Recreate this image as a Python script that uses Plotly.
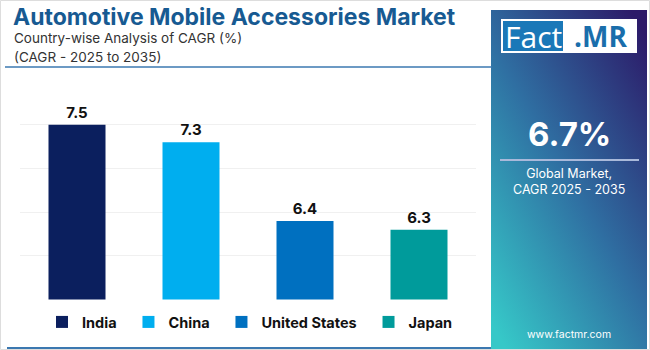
import base64
import plotly.graph_objects as go

countries = ["India", "China", "United States", "Japan"]
cagr = [7.5, 7.3, 6.4, 6.3]
value_labels = ["7.5", "7.3", "6.4", "6.3"]
bar_colors = ["#0b1f5e", "#00aeef", "#0070c0", "#009b9b"]
global_cagr = "6.7%"

W, H = 650, 350

def px(x):
    return x / W

def py(y):
    return 1 - y / H

fig = go.Figure()
for c, v, lab, col in zip(countries, cagr, value_labels, bar_colors):
    fig.add_trace(go.Bar(
        x=[c], y=[v], name=c + "\u00a0\u00a0", text=[lab], textposition="outside",
        textfont=dict(family="Inter", size=15, color="#111111", weight="bold"),
        marker=dict(color=col, line=dict(width=0)), width=0.5, cliponaxis=False,
    ))

svg = ('<svg xmlns="http://www.w3.org/2000/svg" width="156" height="340" viewBox="0 0 156 340" preserveAspectRatio="none">'
       '<defs><linearGradient id="g" x1="0.1" y1="1" x2="0.9" y2="0">'
       '<stop offset="0" stop-color="#36c8c8"/><stop offset="0.5" stop-color="#2f6fa2"/>'
       '<stop offset="1" stop-color="#2c1b69"/></linearGradient></defs>'
       '<rect width="156" height="340" fill="url(#g)"/></svg>')
src = "data:image/svg+xml;base64," + base64.b64encode(svg.encode()).decode()

shapes = [
    dict(type="rect", xref="paper", yref="paper", x0=px(0.5), x1=px(649.5), y0=py(349.5), y1=py(0.5),
         line=dict(color="#dddddd", width=1), fillcolor="rgba(0,0,0,0)", layer="below"),
    dict(type="line", xref="paper", yref="paper", x0=px(5), x1=px(492), y0=py(67), y1=py(67),
         line=dict(color="#3b78b0", width=1.5)),
    dict(type="line", xref="paper", yref="paper", x0=px(7), x1=px(491), y0=py(348), y1=py(348),
         line=dict(color="#3b78b0", width=2)),
    # logo
    dict(type="rect", xref="paper", yref="paper", x0=px(501), x1=px(637), y0=py(53), y1=py(19),
         line=dict(width=0), fillcolor="#ffffff"),
    dict(type="rect", xref="paper", yref="paper", x0=px(503), x1=px(563), y0=py(51), y1=py(21),
         line=dict(width=0), fillcolor="#1a78b8"),
    dict(type="line", xref="paper", yref="paper", x0=px(500), x1=px(639), y0=py(160), y1=py(160),
         line=dict(color="#a9b9da", width=2)),
]

annotations = [
    dict(text="<b>Automotive Mobile Accessories Market</b>", x=px(11), y=py(17), xanchor="left", yanchor="middle",
         font=dict(family="Inter", size=23, color="#175a92")),
    dict(text="Country-wise Analysis of CAGR (%)", x=px(12), y=py(38), xanchor="left", yanchor="middle",
         font=dict(family="Inter", size=13.5, color="#333333")),
    dict(text="(CAGR - 2025 to 2035)", x=px(12), y=py(57), xanchor="left", yanchor="middle",
         font=dict(family="Inter", size=13.5, color="#333333")),
    dict(text="Fact", x=px(533), y=py(36), xanchor="center", yanchor="middle",
         font=dict(family="Open Sans", size=30, color="#ffffff")),
    dict(text="<b>.MR</b>", x=px(600), y=py(36), xanchor="center", yanchor="middle",
         font=dict(family="Open Sans", size=28, color="#1a6eab")),
    dict(text="<b>" + global_cagr + "</b>", x=px(569), y=py(134), xanchor="center", yanchor="middle",
         font=dict(family="Inter", size=33, color="#ffffff")),
    dict(text="Global Market,<br>CAGR 2025 - 2035", x=px(569), y=py(181), xanchor="center", yanchor="middle",
         font=dict(family="Inter", size=12.5, color="#ffffff")),
    dict(text="www.factmr.com", x=px(569), y=py(334), xanchor="center", yanchor="middle",
         font=dict(family="Inter", size=10.5, color="#ffffff")),
]
for a in annotations:
    a.update(xref="paper", yref="paper", showarrow=False)

fig.update_layout(
    width=W, height=H, margin=dict(l=0, r=0, t=0, b=0),
    paper_bgcolor="#ffffff", plot_bgcolor="#ffffff",
    barmode="overlay", showlegend=True,
    xaxis=dict(domain=[px(20), px(476)], showticklabels=False, showgrid=False, zeroline=False,
               categoryorder="array", categoryarray=countries, fixedrange=True),
    yaxis=dict(domain=[py(299.6), py(81)], range=[5.5, 8.0], dtick=0.5, tick0=5.5,
               showticklabels=False, gridcolor="#f0f0f0", gridwidth=1, zeroline=False, fixedrange=True),
    legend=dict(orientation="h", x=px(42), y=py(322), xanchor="left", yanchor="middle",
                font=dict(family="Inter", size=14.5, color="#111111", weight="bold"),
                bgcolor="rgba(0,0,0,0)", itemclick=False),
    shapes=shapes, annotations=annotations,
    images=[dict(source=src, xref="paper", yref="paper", x=px(491), y=py(10), sizex=px(156), sizey=340 / H,
                 xanchor="left", yanchor="top", sizing="stretch", layer="below")],
)

fig.write_html("out.html")
